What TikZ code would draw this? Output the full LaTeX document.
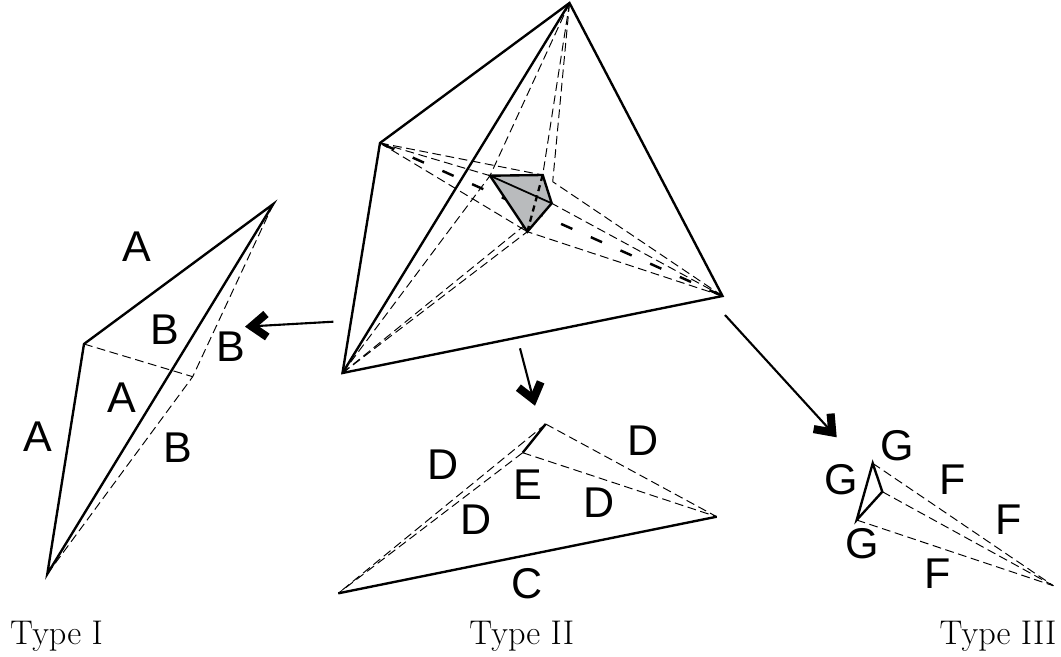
\documentclass[tikz,border=0pt]{standalone}
\usepackage{fontspec}
\setsansfont{Liberation Sans}
\usepackage{xcolor}
\usepackage{tikz}
\usetikzlibrary{arrows.meta}

\definecolor{cellgray}{HTML}{B9BBBD}

\begin{document}
\begin{tikzpicture}[
  x=0.02cm, y=-0.02cm,
  edgs/.style={line width=1.35pt, line join=miter},
  edgd/.style={line width=0.55pt, dash pattern=on 5pt off 2.6pt},
  edgh/.style={line width=1.4pt, dash pattern=on 7pt off 11.5pt, dash phase=16.6pt},
  edgm/.style={line width=1.3pt, dash pattern=on 3.5pt off 2.5pt},
  arr/.style={line width=1.2pt, -{Straight Barb[length=.3cm, width=.46cm, line width=4.6pt, line cap=butt, line join=miter]}},
  lab/.style={font=\sffamily\fontsize{24.5}{24.5}\selectfont, inner sep=0pt},
  typ/.style={font=\rmfamily\fontsize{19.5}{19.5}\selectfont, inner sep=0pt}
]
\useasboundingbox (0,0) rectangle (1061,656);

% big tetrahedron
\coordinate (T) at (569.5,3);
\coordinate (L) at (380,143);
\coordinate (P) at (342.5,373);
\coordinate (R) at (722.5,296);
% inner cell
\coordinate (a) at (490,175.7);
\coordinate (b) at (542.7,175);
\coordinate (c) at (551.7,203.3);
\coordinate (d) at (527.3,231.7);
\coordinate (e) at (552.7,181.7);

\foreach \u/\v in {T/a,T/b,T/e,L/a,L/b,L/d,P/a,P/c,P/d,R/e,R/c,R/d}
  \draw[edgd] (\u) -- (\v);
\draw[edgh] (L) -- (R);

\fill[cellgray] (a) -- (b) -- (c) -- (d) -- cycle;
\draw[edgs] (a) -- (b) -- (c) -- (d) -- cycle;
\draw[line width=1pt] (a) -- (c);
\draw[edgm] (b) -- (d);
\draw[edgs] (T) -- (L) -- (P) -- (R) -- cycle;
\draw[edgs] (T) -- (P);

% type I
\coordinate (I1) at (273.3,204);
\coordinate (I2) at (84,344);
\coordinate (I3) at (47.3,574);
\coordinate (I4) at (192.7,376.7);
\draw[edgs] (I1) -- (I2) -- (I3) -- cycle;
\draw[edgd] (I2) -- (I4);
\draw[edgd] (I1) -- (I4);
\draw[edgd] (I3) -- (I4);

\node[lab] (A1) at (137,247) {A};
\node[lab] (B1) at (165,330) {B};
\node[lab] (B2) at (230.7,346.7) {B};
\node[lab] (A2) at (121.7,398) {A};
\node[lab] (A3) at (37.7,437) {A};
\node[lab] (B3) at (177.7,448) {B};

% type II
\coordinate (II1) at (545.7,424);
\coordinate (II2) at (522.7,452.7);
\coordinate (II3) at (338.3,593.3);
\coordinate (II4) at (716.7,516.7);
\draw[edgs] (II1) -- (II2);
\draw[edgs] (II3) -- (II4);
\draw[edgd] (II1) -- (II3);
\draw[edgd] (II2) -- (II3);
\draw[edgd] (II1) -- (II4);
\draw[edgd] (II2) -- (II4);

\node[lab] (D1) at (443.3,465) {D};
\node[lab] (D2) at (475.7,519.3) {D};
\node[lab] (E1) at (528.3,485) {E};
\node[lab] (D3) at (643.3,441) {D};
\node[lab] (D4) at (599,502.7) {D};
\node[lab] (C1) at (527.3,583.3) {C};

% type III
\coordinate (III1) at (872.7,463.3);
\coordinate (III2) at (882.3,491.7);
\coordinate (III3) at (856.7,520);
\coordinate (III4) at (1053.3,585.7);
\draw[edgs] (III1) -- (III2) -- (III3) -- cycle;
\draw[edgd] (III1) -- (III4);
\draw[edgd] (III2) -- (III4);
\draw[edgd] (III3) -- (III4);

\node[lab] (G1) at (897.7,445.7) {G};
\node[lab] (G2) at (841,480) {G};
\node[lab] (G3) at (862.7,543.3) {G};
\node[lab] (F1) at (952.3,479.3) {F};
\node[lab] (F2) at (1009,519.3) {F};
\node[lab] (F3) at (937.7,573.3) {F};

% arrows
\coordinate (s1) at (333.3,321.7);
\coordinate (t1) at (245,326.7);
\coordinate (s2) at (520,348.3);
\coordinate (t2) at (535,405.7);
\coordinate (s3) at (725,315);
\coordinate (t3) at (836.7,437.3);
\draw[arr] (s1) -- (t1);
\draw[arr] (s2) -- (t2);
\draw[arr] (s3) -- (t3);

\node[typ] (ty1) at (56.5,636) {Type I};
\node[typ] (ty2) at (521.7,636) {Type II};
\node[typ] (ty3) at (998,636) {Type III};

\end{tikzpicture}
\end{document}
